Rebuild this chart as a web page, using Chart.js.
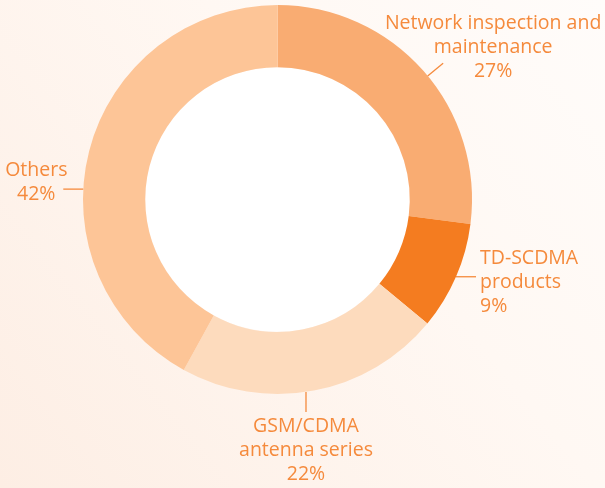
<!DOCTYPE html>
<html>
<head>
<meta charset="utf-8">
<script src="https://cdn.jsdelivr.net/npm/chart.js@4"></script>
<style>
  html, body { margin: 0; padding: 0; }
  body { width: 605px; height: 488px; overflow: hidden; }
  #wrap { position: relative; width: 605px; height: 488px; }
</style>
</head>
<body>
<div id="wrap"><canvas id="myChart"></canvas></div>
<script>
// ==== données ====
const categories = ['Network inspection and maintenance', 'TD-SCDMA products', 'GSM/CDMA antenna series', 'Others'];
const parts = [27, 9, 22, 42];
const couleurs = ['#F9AC72', '#F47C20', '#FDDBBD', '#FDC597'];
// libellés affichés, une ligne par élément
const libelles = [
  ['Network inspection and', 'maintenance', '27%'],
  ['TD-SCDMA', 'products', '9%'],
  ['GSM/CDMA', 'antenna series', '22%'],
  ['Others', '42%']
];

// ==== placement des libellés (position dans le secteur, sens du trait, décalage du texte) ====
const placement = [
  {pos: 0.52, dir: 'radial', align: 'center', dx: 50, dy: -40},
  {pos: 0.50, dir: 'right', align: 'left', dx: 4, dy: -18},
  {pos: 0.53, dir: 'down', align: 'center', dx: 0, dy: 15},
  {pos: 0.425, dir: 'left', align: 'center', dx: -27, dy: -19}
];

// fond dégradé + trou blanc
const Fond = {
  id: 'Fond',
  beforeDraw(chart) {
    const {ctx, width, height} = chart;
    ctx.save();
    const g = ctx.createLinearGradient(0, height, width, 0);
    g.addColorStop(0, '#FDEEE4');
    g.addColorStop(0.6, '#FFF8F3');
    g.addColorStop(1, '#FFFCFA');
    ctx.fillStyle = g;
    ctx.fillRect(0, 0, width, height);
    const arc = chart.getDatasetMeta(0).data[0];
    if (arc) {
      ctx.beginPath();
      ctx.arc(arc.x, arc.y, arc.innerRadius, 0, Math.PI * 2);
      ctx.fillStyle = '#FFFFFF';
      ctx.fill();
    }
    ctx.restore();
  }
};

// traits de rappel + textes
const Libelles = {
  id: 'Libelles',
  afterDatasetsDraw(chart) {
    const {ctx} = chart;
    ctx.save();
    ctx.strokeStyle = '#F58A3C';
    ctx.fillStyle = '#F58A3C';
    ctx.lineWidth = 1.3;
    ctx.font = '19.5px "Open Sans"';
    ctx.textBaseline = 'middle';
    chart.getDatasetMeta(0).data.forEach((arc, i) => {
      const p = placement[i];
      const a = arc.startAngle + (arc.endAngle - arc.startAngle) * p.pos;
      const x0 = arc.x + Math.cos(a) * arc.outerRadius;
      const y0 = arc.y + Math.sin(a) * arc.outerRadius;
      let x1 = x0, y1 = y0;
      const L = 20;
      if (p.dir === 'radial') { x1 = x0 + Math.cos(a) * L; y1 = y0 + Math.sin(a) * L; }
      if (p.dir === 'right') x1 = x0 + L;
      if (p.dir === 'left') x1 = x0 - L;
      if (p.dir === 'down') y1 = y0 + L;
      ctx.beginPath();
      ctx.moveTo(x0, y0);
      ctx.lineTo(x1, y1);
      ctx.stroke();
      ctx.textAlign = p.align;
      libelles[i].forEach((ligne, k) => {
        ctx.fillText(ligne, x1 + p.dx, y1 + p.dy + k * 24);
      });
    });
    ctx.restore();
  }
};

const config = {
  type: 'doughnut',
  data: {
    labels: categories,
    datasets: [{
      data: parts,
      backgroundColor: couleurs,
      borderWidth: 0,
      hoverOffset: 0
    }]
  },
  options: {
    responsive: true,
    maintainAspectRatio: false,
    animation: false,
    cutout: '68%',
    layout: {
      padding: {top: 5, bottom: 94, left: 83, right: 133}
    },
    plugins: {
      legend: {display: false},
      tooltip: {enabled: false}
    }
  },
  plugins: [Fond, Libelles]
};

const myChart = new Chart(document.getElementById('myChart'), config);
</script>
</body>
</html>
